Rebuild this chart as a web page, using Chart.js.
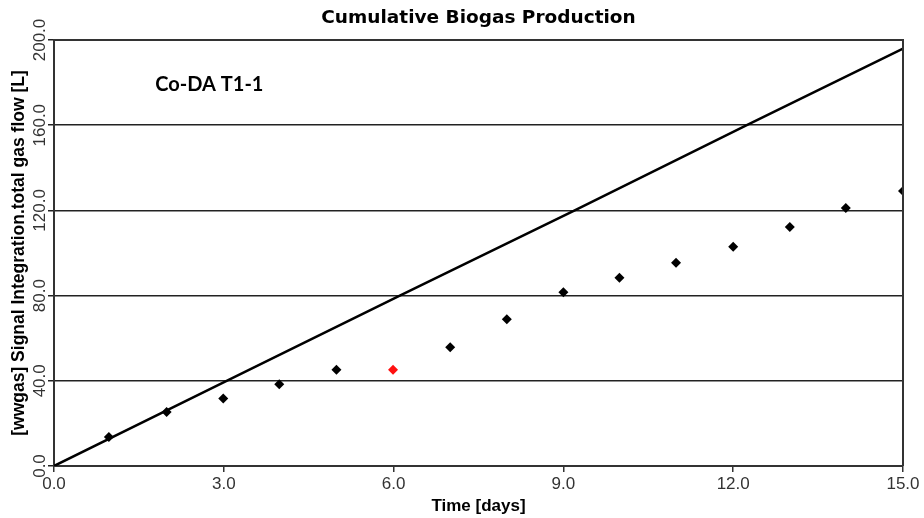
<!DOCTYPE html>
<html>
<head>
<meta charset="utf-8">
<script src="https://cdn.jsdelivr.net/npm/chart.js@4.4.1/dist/chart.umd.min.js"></script>
<style>
  body { margin: 0; background: #fff; }
  canvas { display: block; }
</style>
</head>
<body>
<canvas id="biogas" width="924" height="518"></canvas>
<script>
// values
const measuredDays = [0.97, 1.99, 2.99, 3.98, 4.99, 5.99, 7.0, 8.0, 9.0, 9.99, 10.99, 12.0, 13.0, 13.99, 15.0];
const measuredGas = [13.6, 25.3, 31.7, 38.4, 45.2, 45.2, 55.8, 68.9, 81.6, 88.4, 95.4, 102.9, 112.2, 121.1, 129.1];
const flaggedIndex = 5; // red marker
const signalDays = [0, 3.05, 6.11, 9.2, 12.24, 15];
const signalGas = [0, 40, 80, 120, 160, 196];
const xTicks = [0, 3, 6, 9, 12, 15];
const yTicks = [0, 40, 80, 120, 160, 200];

const chartTitle = 'Cumulative Biogas Production';
const sampleLabel = 'Co-DA T1-1';

const biogas = document.getElementById('biogas');

// y tick labels are vertical in the original, title centred over the plot
const extras = {
  id: 'extras',
  afterDraw(chart) {
    const ctx = chart.ctx;
    const area = chart.chartArea;
    const y = chart.scales.y;
    const x = chart.scales.x;
    ctx.save();
    // plot frame (top and right sides)
    ctx.strokeStyle = '#333';
    ctx.lineWidth = 2;
    ctx.beginPath();
    ctx.moveTo(area.left, area.top);
    ctx.lineTo(area.right, area.top);
    ctx.lineTo(area.right, area.bottom);
    ctx.stroke();

    ctx.fillStyle = '#333';
    ctx.font = '17px "Liberation Sans", Arial, sans-serif';
    ctx.textAlign = 'center';
    ctx.textBaseline = 'middle';
    yTicks.forEach(v => {
      ctx.save();
      ctx.translate(40.5, y.getPixelForValue(v));
      ctx.rotate(-Math.PI / 2);
      ctx.fillText(v.toFixed(1), 0, 0);
      ctx.restore();
    });

    ctx.fillStyle = '#000';
    ctx.font = 'bold 18.5px "DejaVu Sans", sans-serif';
    ctx.fillText(chartTitle, (area.left + area.right) / 2, 18);

    ctx.font = 'bold 20px Lato, sans-serif';
    ctx.textAlign = 'left';
    ctx.fillText(sampleLabel, x.getPixelForValue(1.79), y.getPixelForValue(179));
    ctx.restore();
  }
};

new Chart(biogas, {
  type: 'scatter',
  data: {
    datasets: [{
      label: 'signal',
      data: signalDays.map((d, i) => ({ x: d, y: signalGas[i] })),
      showLine: true,
      borderColor: '#000',
      borderWidth: 2.5,
      pointRadius: 0,
      order: 2
    }, {
      label: 'measured',
      data: measuredDays.map((d, i) => ({ x: d, y: measuredGas[i] })),
      showLine: false,
      pointStyle: 'rectRot',
      pointRadius: 5,
      borderWidth: 0,
      backgroundColor: ctx => ctx.dataIndex === flaggedIndex ? '#ff1010' : '#000',
      order: 1
    }]
  },
  options: {
    responsive: false,
    animation: false,
    layout: { padding: { top: 40, right: 21, left: 0, bottom: 0 } },
    plugins: {
      legend: { display: false },
      tooltip: { enabled: false }
    },
    scales: {
      x: {
        type: 'linear',
        min: 0,
        max: 15,
        afterBuildTicks: s => { s.ticks = xTicks.map(v => ({ value: v })); },
        afterFit: s => { s.height = 52; },
        ticks: {
          callback: v => v.toFixed(1),
          color: '#333',
          font: { family: '"Liberation Sans", Arial, sans-serif', size: 17 },
          padding: 2,
          maxRotation: 0
        },
        grid: { drawOnChartArea: false, tickLength: 6, color: '#333', lineWidth: 1.5 },
        border: { color: '#333', width: 2 },
        title: {
          display: true,
          text: 'Time [days]',
          color: '#000',
          font: { family: '"Liberation Sans", Arial, sans-serif', size: 17, weight: 'bold' },
          padding: { top: 0, bottom: 1 }
        }
      },
      y: {
        min: 0,
        max: 200,
        afterBuildTicks: s => { s.ticks = yTicks.map(v => ({ value: v })); },
        afterFit: s => { s.width = 54; },
        ticks: { display: false },
        grid: { color: '#222', lineWidth: 1.5, tickLength: 6 },
        border: { color: '#333', width: 2 },
        title: {
          display: true,
          text: '[wwgas] Signal Integration.total gas flow [L]',
          color: '#000',
          font: { family: '"Liberation Sans", Arial, sans-serif', size: 17.5, weight: 'bold' },
          padding: { top: 9, bottom: 0 }
        }
      }
    }
  },
  plugins: [extras]
});
</script>
</body>
</html>
